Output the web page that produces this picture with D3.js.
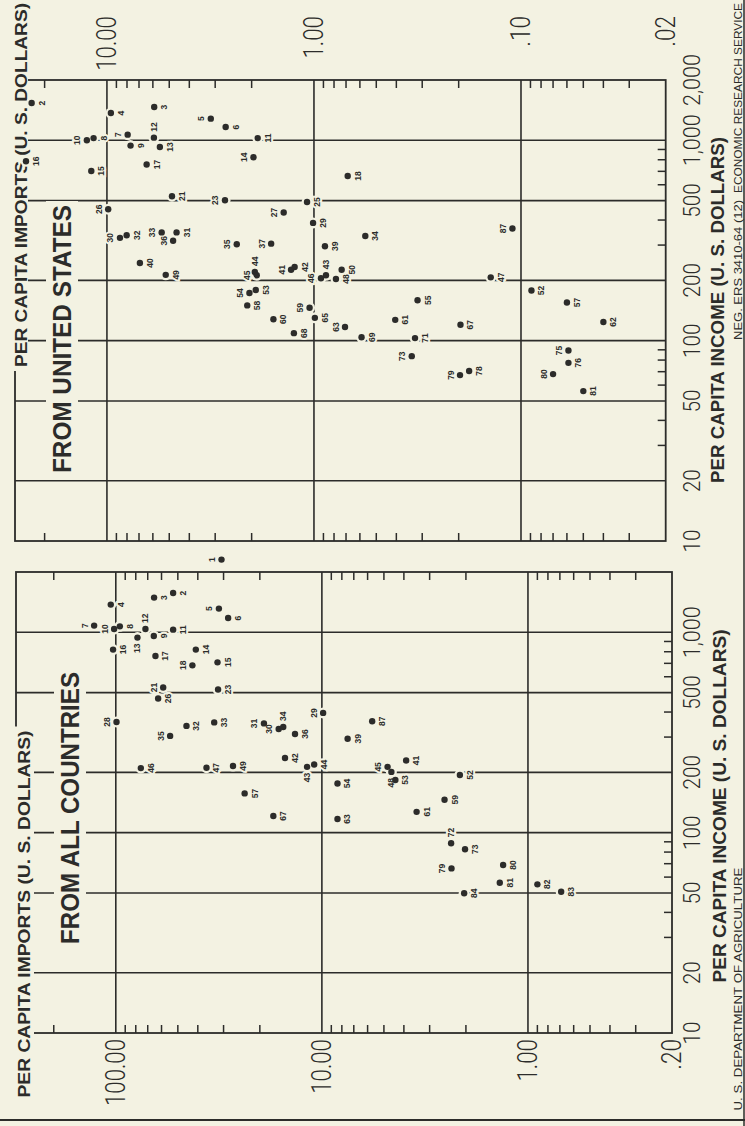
<!DOCTYPE html>
<html><head><meta charset="utf-8">
<script src="https://cdn.jsdelivr.net/npm/d3@7"></script>
<style>html,body{margin:0;padding:0;background:#f3f2e2;} svg{display:block}</style>
</head><body>
<svg id="c" width="745" height="1126"></svg>
<script>
// ---------- DATA ----------
const incomeTicks = [10, 20, 50, 100, 200, 500, 1000, 2000];
const incomeTickLabels = ["10", "20", "50", "100", "200", "500", "1,000", "2,000"];
const incomeGrid = [20, 50, 100, 200, 500, 1000];
const incomeMinor = [30, 40, 60, 70, 80, 90, 300, 400, 600, 700, 800, 900];

const importsTicksAll = [100, 10, 1, 0.2];
const importsTickLabelsAll = ["100.00", "10.00", "1.00", ".20"];
const importsGridAll = [100, 10, 1];
const importsMinorAll = [200, 90, 80, 70, 60, 50, 40, 30, 20, 9, 8, 7, 6, 5, 4, 3, 2, 0.9, 0.8, 0.7, 0.6, 0.5, 0.4, 0.3];

const importsTicksUS = [10, 1, 0.1, 0.02];
const importsTickLabelsUS = ["10.00", "1.00", ".10", ".02"];
const importsGridUS = [10, 1, 0.1];
const importsMinorUS = [20, 9, 8, 7, 6, 5, 4, 3, 2, 0.9, 0.8, 0.7, 0.6, 0.5, 0.4, 0.3, 0.2, 0.09, 0.08, 0.07, 0.06, 0.05, 0.04, 0.03];

// From all countries
const allIds = [1,2,3,4,5,6,7,8,9,10,11,12,13,14,15,16,17,18,21,23,26,28,29,30,31,32,33,34,35,36,39,41,42,43,44,45,46,47,48,49,52,53,54,57,59,61,63,67,72,73,79,80,81,82,83,84,87];
const allIncome = [2306,1571,1490,1375,1313,1178,1080,1071,959,1038,1031,1038,941,820,708,820,762,684,530,518,467,357,396,329,351,341,355,337,304,311,294,229,236,213,219,213,210,211,201,215,194,183,176,157,146,127,117,121,88.6,82.7,66.3,68.9,56.2,55.2,50.7,49.8,360];
const allImports = [30.7,52.7,65.2,105.8,31.6,28.5,127.4,95.6,65.4,101.9,52.7,71.8,78.5,40.9,32.1,103.1,64.2,42.5,58.9,31.9,62.3,99.2,9.86,16.2,19.1,45.4,33.3,15.4,54.5,13.5,7.5,3.9,15.1,11.8,10.9,4.8,75.6,36.3,4.6,27.0,2.14,4.4,8.4,23.7,2.54,3.47,8.4,17.2,2.36,2.02,2.35,1.32,1.37,0.90,0.69,2.04,5.7];

// From United States
const usIds = [2,3,4,5,6,7,8,9,10,11,12,13,14,15,16,17,18,21,23,25,26,27,29,30,31,32,33,34,35,36,37,39,40,41,42,43,44,45,46,47,48,49,50,52,53,54,55,57,58,59,60,61,62,63,65,67,68,69,71,73,75,76,78,79,80,81,87];
const usIncome = [1535,1466,1368,1283,1165,1067,1026,941,1000,1026,1031,926,823,703,786,757,664,526,502,492,453,436,387,326,347,336,347,333,303,315,305,296,244,226,233,212,220,212,205,207,203,213,226,178,179,173,159,155,150,146,128,127,124,117,130,120,109,104,103,83.7,89.3,77.5,70.5,67.3,68.1,56.0,363];
const usImports = [23.1,5.91,9.57,3.15,2.67,7.94,11.6,7.69,12.5,1.87,5.93,5.55,1.96,11.9,24.6,6.43,0.687,4.85,2.69,1.08,9.86,1.40,1.01,8.65,4.61,8.03,5.44,0.565,2.36,4.79,1.61,0.885,6.93,1.29,1.24,0.875,1.93,1.89,0.925,0.140,0.783,5.20,0.735,0.089,1.91,2.05,0.316,0.060,2.10,1.05,1.57,0.405,0.040,0.708,0.99,0.196,1.25,0.589,0.325,0.337,0.059,0.059,0.178,0.197,0.070,0.050,0.110];

// label placement (a = above, r = right, l = left, default below)
const labelSideAll = {a:[1,5,7,10,18,21,28,29,30,31,35,45,79], r:[12,34,72], l:[13,43,48]};
const labelSideUS = {a:[5,7,10,14,23,26,27,30,33,35,36,37,41,45,46,54,59,63,73,75,79,80,87], r:[12,43,44], l:[]};

// ---------- DRAW ----------
const PAPER = "#f3f2e2", INK = "#2c2c2a";
const svg = d3.select("#c");
svg.append("rect").attr("width", 745).attr("height", 1126).attr("fill", PAPER);
// work in the page's original (landscape) orientation, rotated onto the portrait canvas
const g = svg.append("g").attr("transform", "translate(0,1126) rotate(-90)");

const light = "Roboto,'Open Sans','Liberation Sans',sans-serif";
const bold = "'Liberation Sans','DejaVu Sans',sans-serif";

const gridL = g.append("g"), knockL = g.append("g"), textL = g.append("g"),
      haloL = g.append("g"), dotL = g.append("g");

function sideOf(map, id) {
  if (map.a.includes(id)) return "a";
  if (map.r.includes(id)) return "r";
  if (map.l.includes(id)) return "l";
  return "b";
}
// width of a numeric label in the narrow lettering of the original
function numWidth(s, digitW) {
  let w = 0;
  for (const ch of s) w += /[0-9]/.test(ch) ? digitW : 6;
  return w;
}

function panel(cfg) {
  const x = d3.scaleLog().domain([10, 2000]).range(cfg.xr);
  const y = d3.scaleLog().domain(cfg.yd).range(cfg.yr);
  const x0 = x(10), x1 = x(2000), y0 = y(cfg.yd[0]), y1 = y(cfg.yd[1]);
  // frame
  gridL.append("rect").attr("x", x0).attr("y", y0).attr("width", x1 - x0).attr("height", y1 - y0)
    .attr("fill", "none").attr("stroke", INK).attr("stroke-width", 1.8);
  // grid
  gridL.selectAll(null).data(incomeGrid).join("line")
    .attr("x1", d => x(d)).attr("x2", d => x(d)).attr("y1", y0).attr("y2", y1)
    .attr("stroke", INK).attr("stroke-width", 1.6);
  gridL.selectAll(null).data(cfg.grid).join("line")
    .attr("y1", d => y(d)).attr("y2", d => y(d)).attr("x1", x0).attr("x2", x1)
    .attr("stroke", INK).attr("stroke-width", 1.6);
  // minor ticks
  const tk = 8;
  cfg.minor.forEach(v => {
    gridL.append("line").attr("x1", x0).attr("x2", x0 + tk).attr("y1", y(v)).attr("y2", y(v))
      .attr("stroke", INK).attr("stroke-width", 1.5);
    gridL.append("line").attr("x1", x1).attr("x2", x1 - tk).attr("y1", y(v)).attr("y2", y(v))
      .attr("stroke", INK).attr("stroke-width", 1.5);
  });
  incomeMinor.forEach(v => {
    gridL.append("line").attr("x1", x(v)).attr("x2", x(v)).attr("y1", y1).attr("y2", y1 - tk)
      .attr("stroke", INK).attr("stroke-width", 1.5);
  });
  // income tick labels
  incomeTicks.forEach((v, i) => {
    if (v > cfg.maxIncLabel) return;
    const s = incomeTickLabels[i];
    textL.append("text").attr("x", x(v)).attr("y", 692).attr("text-anchor", "middle")
      .attr("dominant-baseline", "central").attr("font-family", light).attr("font-weight", 300)
      .attr("font-size", 24).attr("fill", INK)
      .attr("textLength", numWidth(s, 11.5)).attr("lengthAdjust", "spacingAndGlyphs").text(s);
  });
  // imports tick labels
  cfg.ticks.forEach((v, i) => {
    const s = cfg.tickLabels[i];
    textL.append("text").attr("x", cfg.impLabelX).attr("y", y(v)).attr("text-anchor", "end")
      .attr("dominant-baseline", "central").attr("font-family", light).attr("font-weight", 300)
      .attr("font-size", 27).attr("fill", INK)
      .attr("textLength", numWidth(s, 12.2)).attr("lengthAdjust", "spacingAndGlyphs").text(s);
  });
  // titles with knock-outs
  function title(txt, cx, cy, len, size, ky0, ky1) {
    knockL.append("rect").attr("x", cx - len / 2 - 4).attr("width", len + 8)
      .attr("y", ky0).attr("height", ky1 - ky0).attr("fill", PAPER);
    textL.append("text").attr("x", cx).attr("y", cy).attr("text-anchor", "middle")
      .attr("dominant-baseline", "central").attr("font-family", bold).attr("font-weight", 700)
      .attr("font-size", size).attr("fill", INK).attr("textLength", len)
      .attr("lengthAdjust", "spacingAndGlyphs").text(txt);
  }
  title("PER CAPITA IMPORTS (U. S. DOLLARS)", cfg.impTitle[0], cfg.impTitle[1], cfg.impTitle[2], 17, 4, cfg.impTitle[3]);
  title(cfg.big, cfg.bigPos[0], cfg.bigPos[1], cfg.bigPos[2], 25, cfg.bigPos[1] - 16, cfg.bigPos[1] + 16);
  textL.append("text").attr("x", cfg.incTitle[0]).attr("y", cfg.incTitle[1]).attr("text-anchor", "middle")
    .attr("dominant-baseline", "central").attr("font-family", bold).attr("font-weight", 700)
    .attr("font-size", 18).attr("fill", INK).attr("textLength", cfg.incTitle[2])
    .attr("lengthAdjust", "spacingAndGlyphs").text("PER CAPITA INCOME (U. S. DOLLARS)");

  // points
  const pts = cfg.ids.map((id, i) => ({id, inc: cfg.inc[i], imp: cfg.imp[i], side: sideOf(cfg.sides, id)}));
  const lp = d => {
    const px = x(d.inc), py = y(d.imp);
    if (d.side === "a") return [px, py - 9.5, "middle"];
    if (d.side === "r") return [px + 6, py, "start"];
    if (d.side === "l") return [px - 6, py, "end"];
    return [px, py + 10, "middle"];
  };
  haloL.selectAll(null).data(pts).join("circle").attr("cx", d => x(d.inc)).attr("cy", d => y(d.imp))
    .attr("r", 5.5).attr("fill", PAPER);
  haloL.selectAll(null).data(pts).join("text")
    .attr("x", d => lp(d)[0]).attr("y", d => lp(d)[1]).attr("text-anchor", d => lp(d)[2])
    .attr("dominant-baseline", "central").attr("font-family", bold).attr("font-weight", 700)
    .attr("font-size", 8.5).attr("fill", PAPER).attr("stroke", PAPER).attr("stroke-width", 4)
    .text(d => d.id);
  dotL.selectAll(null).data(pts).join("circle").attr("cx", d => x(d.inc)).attr("cy", d => y(d.imp))
    .attr("r", 3.2).attr("fill", INK);
  dotL.selectAll(null).data(pts).join("text")
    .attr("x", d => lp(d)[0]).attr("y", d => lp(d)[1]).attr("text-anchor", d => lp(d)[2])
    .attr("dominant-baseline", "central").attr("font-family", bold).attr("font-weight", 700)
    .attr("font-size", 8.5).attr("fill", INK).text(d => d.id);
}

panel({
  xr: [93, 554], yd: [305, 0.2], yr: [16, 672],
  grid: importsGridAll, minor: importsMinorAll, ticks: importsTicksAll, tickLabels: importsTickLabelsAll,
  impLabelX: 87, maxIncLabel: 1000,
  impTitle: [212, 24, 367, 34], big: "FROM ALL COUNTRIES", bigPos: [318, 70, 272],
  incTitle: [320, 720, 353],
  ids: allIds, inc: allIncome, imp: allImports, sides: labelSideAll
});
panel({
  xr: [585, 1046], yd: [27.8, 0.02], yr: [15, 665.7],
  grid: importsGridUS, minor: importsMinorUS, ticks: importsTicksUS, tickLabels: importsTickLabelsUS,
  impLabelX: 1110, maxIncLabel: 2000,
  impTitle: [941, 21, 364, 28], big: "FROM UNITED STATES", bigPos: [787, 62, 268],
  incTitle: [816, 718, 346],
  ids: usIds, inc: usIncome, imp: usImports, sides: labelSideUS
});

// footer and page border
const foot = (txt, cx, len) => textL.append("text").attr("x", cx).attr("y", 737.5)
  .attr("text-anchor", "middle").attr("dominant-baseline", "central").attr("font-family", bold)
  .attr("font-size", 10.5).attr("fill", INK).attr("textLength", len).attr("lengthAdjust", "spacingAndGlyphs").text(txt);
foot("U. S. DEPARTMENT OF AGRICULTURE", 137, 243);
foot("NEG. ERS 3410-64 (12)", 856, 140);
foot("ECONOMIC RESEARCH SERVICE", 1028, 190);
gridL.append("line").attr("x1", 6).attr("x2", 6).attr("y1", 0).attr("y2", 745).attr("stroke", INK).attr("stroke-width", 2);
gridL.append("line").attr("x1", 0).attr("x2", 1126).attr("y1", 744).attr("y2", 744).attr("stroke", INK).attr("stroke-width", 1.5);
</script>
</body></html>
